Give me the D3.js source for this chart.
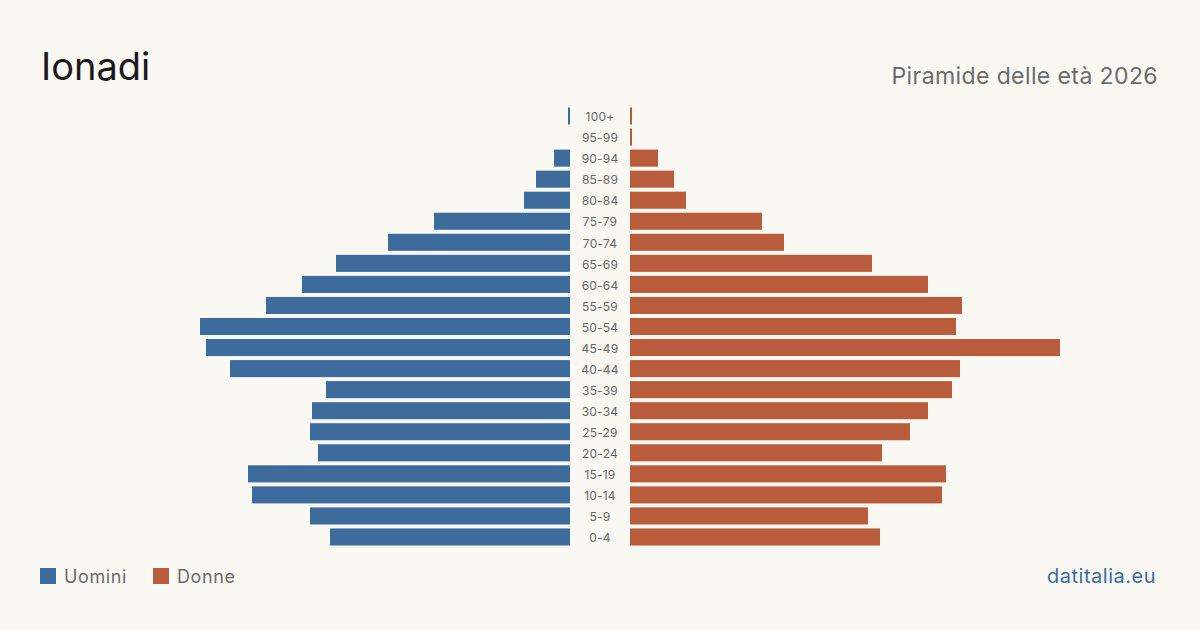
<!DOCTYPE html>
<html>
<head>
<meta charset="utf-8">
<script src="https://cdn.jsdelivr.net/npm/d3@7"></script>
<style>
  html, body { margin: 0; padding: 0; background: #f9f8f3; }
  svg { display: block; font-family: Inter, "Liberation Sans", sans-serif; }
</style>
</head>
<body>
<svg id="chart" width="1200" height="630"></svg>
<script>
var blue = '#3d6b9c';
var orange = '#b95c3c';
var bg = '#f9f8f3';

// age classes, youngest first
var ages = ['0-4', '5-9', '10-14', '15-19', '20-24', '25-29', '30-34', '35-39', '40-44', '45-49',
  '50-54', '55-59', '60-64', '65-69', '70-74', '75-79', '80-84', '85-89', '90-94', '95-99', '100+'];
var men = [120, 130, 159, 161, 126, 130, 129, 122, 170, 182,
  185, 152, 134, 117, 91, 68, 23, 17, 8, 0, 1];
var women = [125, 119, 156, 158, 126, 140, 149, 161, 165, 215,
  163, 166, 149, 121, 77, 66, 28, 22, 14, 1, 1];

var width = 1200;
var height = 630;
var center = 600;
var gap = 30;
var maxW = 430;

var svg = d3.select('#chart');
svg.append('rect').attr('width', width).attr('height', height).attr('fill', bg);

var maxVal = d3.max(men.concat(women));
var x = d3.scaleLinear().domain([0, maxVal]).range([0, maxW]);

var y = d3.scaleBand()
  .domain(ages.slice().reverse())
  .range([105.5, 547.5])
  .paddingInner(0.19)
  .paddingOuter(0.095);

var rows = ages.map(function(a, i) { return { age: a, m: men[i], f: women[i] }; });

// men bars (left)
svg.append('g').selectAll('rect').data(rows).join('rect')
  .attr('x', function(d) { return center - gap - x(d.m); })
  .attr('y', function(d) { return y(d.age); })
  .attr('width', function(d) { return x(d.m); })
  .attr('height', y.bandwidth())
  .attr('fill', blue);

// women bars (right)
svg.append('g').selectAll('rect').data(rows).join('rect')
  .attr('x', center + gap)
  .attr('y', function(d) { return y(d.age); })
  .attr('width', function(d) { return x(d.f); })
  .attr('height', y.bandwidth())
  .attr('fill', orange);

// age labels
svg.append('g').selectAll('text').data(rows).join('text')
  .attr('x', center)
  .attr('y', function(d) { return y(d.age) + y.bandwidth() / 2 + 1; })
  .attr('dy', '0.35em')
  .attr('text-anchor', 'middle')
  .attr('font-size', '12px')
  .attr('letter-spacing', '0.2px')
  .attr('fill', '#666')
  .text(function(d) { return d.age; });

// titles
svg.append('text')
  .attr('x', 41).attr('y', 80)
  .attr('font-size', '38px')
  .attr('fill', '#1a1a1a')
  .text('Ionadi');

svg.append('text')
  .attr('x', 1158).attr('y', 84)
  .attr('text-anchor', 'end')
  .attr('font-size', '23px')
  .attr('letter-spacing', '0.4px')
  .attr('fill', '#6b6b6b')
  .text('Piramide delle età 2026');

// legend
var legend = [{ label: 'Uomini', color: blue, x: 40 }, { label: 'Donne', color: orange, x: 153 }];
var lg = svg.append('g').selectAll('g').data(legend).join('g');
lg.append('rect')
  .attr('x', function(d) { return d.x; })
  .attr('y', 568)
  .attr('width', 16).attr('height', 16)
  .attr('fill', function(d) { return d.color; });
lg.append('text')
  .attr('x', function(d) { return d.x + 24; })
  .attr('y', 583)
  .attr('font-size', '18px')
  .attr('letter-spacing', '0.6px')
  .attr('fill', '#6b6b6b')
  .text(function(d) { return d.label; });

svg.append('text')
  .attr('x', 1156).attr('y', 583)
  .attr('text-anchor', 'end')
  .attr('font-size', '20px')
  .attr('letter-spacing', '0.5px')
  .attr('fill', '#3d6b9c')
  .text('datitalia.eu');
</script>
</body>
</html>
